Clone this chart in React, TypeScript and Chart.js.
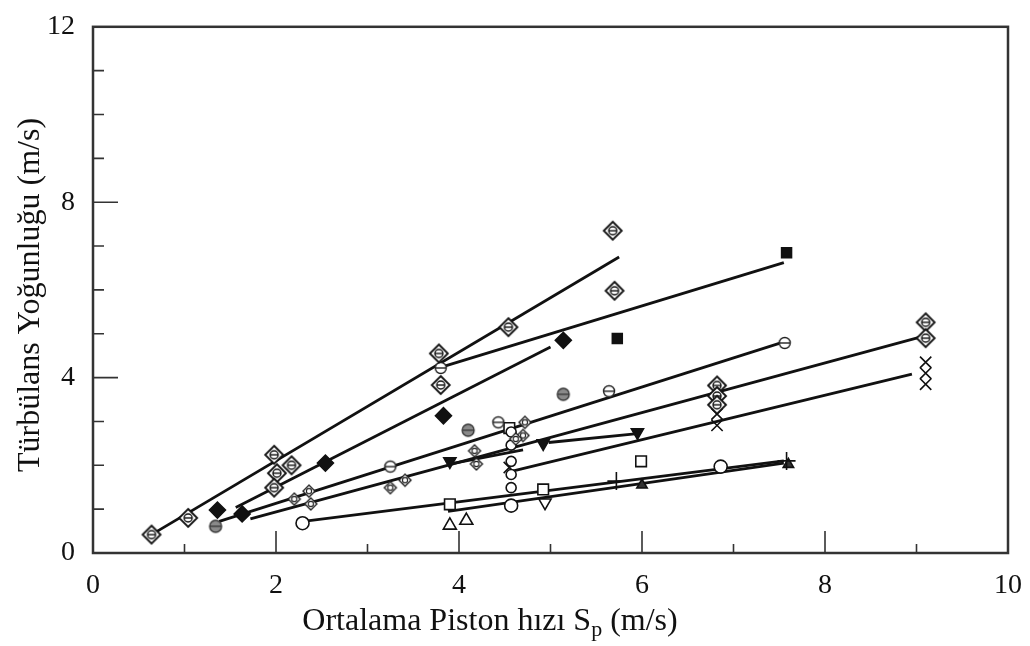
import React, { useEffect, useRef } from "react";
import { Chart, registerables } from "chart.js";
Chart.register(...registerables);

// ---- axis ticks ----
const xMajor = [0, 2, 4, 6, 8, 10];
const xMinor = [1, 3, 5, 7, 9];
const yMajor = [0, 4, 8, 12];
const yMinor = [1, 2, 3, 5, 6, 7, 9, 10, 11];

// ---- marker series ----
const diamondCircleX = [0.64, 1.04, 1.98, 2.17, 2.01, 1.98, 3.78, 3.8, 4.54, 5.68, 5.7, 6.82, 6.82, 6.82, 9.1, 9.1];
const diamondCircleY = [0.42, 0.8, 2.24, 2.0, 1.82, 1.49, 4.55, 3.83, 5.15, 7.35, 5.98, 3.82, 3.58, 3.38, 5.26, 4.9];

const grayCircleX = [1.34, 4.1, 5.14];
const grayCircleY = [0.61, 2.8, 3.62];

const openCircleLineX = [3.25, 4.43, 5.64, 7.56, 3.8];
const openCircleLineY = [1.97, 2.98, 3.69, 4.79, 4.22];

const blackDiamondX = [1.36, 1.63, 2.54, 3.83, 5.14];
const blackDiamondY = [0.98, 0.89, 2.05, 3.13, 4.85];

const blackSquareX = [5.73, 7.58];
const blackSquareY = [4.89, 6.85];

const downTriangleX = [3.9, 4.92, 5.95];
const downTriangleY = [2.09, 2.5, 2.75];

const openCircleX = [2.29, 6.86, 4.57];
const openCircleY = [0.68, 1.97, 1.08];

const stackCircleX = [4.57, 4.57, 4.57, 4.57, 4.57];
const stackCircleY = [1.49, 1.79, 2.09, 2.46, 2.76];

const openSquareX = [3.9, 4.92, 5.99, 4.55];
const openSquareY = [1.11, 1.45, 2.09, 2.85];

const openTriangleX = [3.9, 4.08];
const openTriangleY = [0.63, 0.74];

const openDownTriangleX = [4.94];
const openDownTriangleY = [1.15];

const plusX = [5.72, 7.58];
const plusY = [1.64, 2.1];

const filledTriangleX = [6.0, 7.6];
const filledTriangleY = [1.55, 2.02];

const crossX = [6.82, 6.82, 9.1, 9.1, 9.1, 4.55];
const crossY = [3.17, 2.91, 4.35, 4.1, 3.85, 1.95];

const smallDiamondX = [2.2, 2.36, 2.38, 3.41, 4.17, 4.19, 4.72, 4.7, 4.62, 3.25];
const smallDiamondY = [1.23, 1.41, 1.12, 1.66, 2.33, 2.03, 2.98, 2.68, 2.6, 1.49];

// ---- fitted lines (end points) ----
const lineAX = [0.64, 5.75];
const lineAY = [0.42, 6.75];
const lineBX = [3.78, 7.55];
const lineBY = [4.22, 6.62];
const lineCX = [1.56, 5.0];
const lineCY = [1.04, 4.7];
const lineDX = [1.38, 7.5];
const lineDY = [0.72, 4.78];
const lineEX = [1.72, 9.14];
const lineEY = [0.78, 4.98];
const lineFX = [4.55, 8.95];
const lineFY = [1.85, 4.08];
const lineGX = [3.95, 4.7];
const lineGY = [2.05, 2.35];
const lineG2X = [4.98, 5.95];
const lineG2Y = [2.52, 2.72];
const lineHX = [2.3, 7.55];
const lineHY = [0.72, 2.1];
const lineIX = [3.88, 7.55];
const lineIY = [0.95, 2.05];

const SERIF = "'Liberation Serif', 'Times New Roman', serif";
const TICK_SIZE = 28;
const TITLE_SIZE = 32;

function pts(xs: number[], ys: number[]) {
  return xs.map((x, i) => ({ x, y: ys[i] }));
}

function makeMarker(size: number, draw: (ctx: CanvasRenderingContext2D, c: number) => void) {
  const cv = document.createElement("canvas");
  cv.width = size;
  cv.height = size;
  const ctx = cv.getContext("2d") as CanvasRenderingContext2D;
  draw(ctx, size / 2);
  return cv;
}

export default function App() {
  const ref = useRef<HTMLCanvasElement | null>(null);

  useEffect(() => {
    document.body.style.margin = "0";
    const canvas = ref.current;
    if (!canvas) return;

    const diamondCircle = makeMarker(24, (ctx, c) => {
      ctx.beginPath();
      ctx.moveTo(c, c - 9);
      ctx.lineTo(c + 9, c);
      ctx.lineTo(c, c + 9);
      ctx.lineTo(c - 9, c);
      ctx.closePath();
      ctx.fillStyle = "#fff";
      ctx.fill();
      ctx.strokeStyle = "#111";
      ctx.lineWidth = 1.8;
      ctx.stroke();
      ctx.beginPath();
      ctx.arc(c, c, 4, 0, Math.PI * 2);
      ctx.lineWidth = 1.4;
      ctx.stroke();
      ctx.beginPath();
      ctx.moveTo(c - 4, c);
      ctx.lineTo(c + 4, c);
      ctx.stroke();
    });
    const smallDiamond = makeMarker(16, (ctx, c) => {
      ctx.beginPath();
      ctx.moveTo(c, c - 6);
      ctx.lineTo(c + 6, c);
      ctx.lineTo(c, c + 6);
      ctx.lineTo(c - 6, c);
      ctx.closePath();
      ctx.fillStyle = "#fff";
      ctx.fill();
      ctx.strokeStyle = "#222";
      ctx.lineWidth = 1.4;
      ctx.stroke();
      ctx.beginPath();
      ctx.arc(c, c, 2.6, 0, Math.PI * 2);
      ctx.lineWidth = 1.1;
      ctx.stroke();
    });
    const grayCircle = makeMarker(16, (ctx, c) => {
      ctx.beginPath();
      ctx.arc(c, c, 6, 0, Math.PI * 2);
      ctx.fillStyle = "#8a8a8a";
      ctx.fill();
      ctx.strokeStyle = "#333";
      ctx.lineWidth = 1.3;
      ctx.stroke();
      ctx.beginPath();
      ctx.moveTo(c - 6, c);
      ctx.lineTo(c + 6, c);
      ctx.stroke();
    });
    const openCircleLine = makeMarker(16, (ctx, c) => {
      ctx.beginPath();
      ctx.arc(c, c, 5.5, 0, Math.PI * 2);
      ctx.fillStyle = "#fff";
      ctx.fill();
      ctx.strokeStyle = "#222";
      ctx.lineWidth = 1.4;
      ctx.stroke();
      ctx.beginPath();
      ctx.moveTo(c - 5.5, c);
      ctx.lineTo(c + 5.5, c);
      ctx.stroke();
    });

    const lineDs = (xs: number[], ys: number[]) => ({
      data: pts(xs, ys),
      showLine: true,
      borderColor: "#111",
      borderWidth: 2.8,
      pointRadius: 0,
      order: 2,
    });
    const mk = (xs: number[], ys: number[], style: any, opts: any = {}) => ({
      data: pts(xs, ys),
      showLine: false,
      pointStyle: style,
      pointRadius: 7,
      borderColor: "#111",
      backgroundColor: "#fff",
      borderWidth: 1.6,
      order: 1,
      ...opts,
    });

    const framePlugin = {
      id: "framePlugin",
      afterDraw(chart: any) {
        const { ctx, chartArea: a, scales } = chart;
        ctx.save();
        ctx.strokeStyle = "#333";
        ctx.lineWidth = 2.5;
        ctx.strokeRect(a.left, a.top, a.right - a.left, a.bottom - a.top);
        ctx.lineWidth = 1.6;
        ctx.beginPath();
        xMajor.forEach((v) => {
          if (v === 0 || v === 10) return;
          const px = scales.x.getPixelForValue(v);
          ctx.moveTo(px, a.bottom);
          ctx.lineTo(px, a.bottom - 22);
        });
        xMinor.forEach((v) => {
          const px = scales.x.getPixelForValue(v);
          ctx.moveTo(px, a.bottom);
          ctx.lineTo(px, a.bottom - 9);
        });
        yMajor.forEach((v) => {
          if (v === 0 || v === 12) return;
          const py = scales.y.getPixelForValue(v);
          ctx.moveTo(a.left, py);
          ctx.lineTo(a.left + 25, py);
        });
        yMinor.forEach((v) => {
          const py = scales.y.getPixelForValue(v);
          ctx.moveTo(a.left, py);
          ctx.lineTo(a.left + 11, py);
        });
        ctx.stroke();

        // Axis titles
        ctx.fillStyle = "#111";
        ctx.font = `${TITLE_SIZE}px ${SERIF}`;
        ctx.textBaseline = "middle";
        ctx.textAlign = "center";
        ctx.save();
        ctx.translate(31, 295);
        ctx.rotate(-Math.PI / 2);
        ctx.fillText("Türbülans Yoğunluğu (m/s)", 0, 0);
        ctx.restore();

        const part1 = "Ortalama Piston hızı S";
        const sub = "p";
        const part2 = " (m/s)";
        const subSize = Math.round(TITLE_SIZE * 0.7);
        ctx.textAlign = "left";
        ctx.textBaseline = "alphabetic";
        ctx.font = `${TITLE_SIZE}px ${SERIF}`;
        const w1 = ctx.measureText(part1).width;
        const w3 = ctx.measureText(part2).width;
        ctx.font = `${subSize}px ${SERIF}`;
        const w2 = ctx.measureText(sub).width;
        const total = w1 + w2 + w3;
        const x0 = 490 - total / 2;
        const base = 630;
        ctx.font = `${TITLE_SIZE}px ${SERIF}`;
        ctx.fillText(part1, x0, base);
        ctx.font = `${subSize}px ${SERIF}`;
        ctx.fillText(sub, x0 + w1, base + 6);
        ctx.font = `${TITLE_SIZE}px ${SERIF}`;
        ctx.fillText(part2, x0 + w1 + w2, base);
        ctx.restore();
      },
    };

    const chart = new Chart(canvas, {
      type: "scatter",
      data: {
        datasets: [
          mk(diamondCircleX, diamondCircleY, diamondCircle),
          mk(smallDiamondX, smallDiamondY, smallDiamond),
          mk(grayCircleX, grayCircleY, grayCircle),
          mk(openCircleLineX, openCircleLineY, openCircleLine),
          mk(blackDiamondX, blackDiamondY, "rectRot", { backgroundColor: "#111", pointRadius: 8 }),
          mk(blackSquareX, blackSquareY, "rect", { backgroundColor: "#111", pointRadius: 7 }),
          mk(downTriangleX, downTriangleY, "triangle", { backgroundColor: "#111", rotation: 180, pointRadius: 7 }),
          mk(openCircleX, openCircleY, "circle", { pointRadius: 6.5 }),
          mk(stackCircleX, stackCircleY, "circle", { pointRadius: 5 }),
          mk(openSquareX, openSquareY, "rect", { pointRadius: 7.5 }),
          mk(openTriangleX, openTriangleY, "triangle", { pointRadius: 7.5 }),
          mk(openDownTriangleX, openDownTriangleY, "triangle", { pointRadius: 7, rotation: 180 }),
          mk(plusX, plusY, "cross", { pointRadius: 9, borderWidth: 1.6 }),
          mk(filledTriangleX, filledTriangleY, "triangle", { backgroundColor: "#333", pointRadius: 6 }),
          mk(crossX, crossY, "crossRot", { pointRadius: 8, borderWidth: 1.6 }),
          lineDs(lineAX, lineAY),
          lineDs(lineBX, lineBY),
          lineDs(lineCX, lineCY),
          lineDs(lineDX, lineDY),
          lineDs(lineEX, lineEY),
          lineDs(lineFX, lineFY),
          lineDs(lineGX, lineGY),
          lineDs(lineG2X, lineG2Y),
          lineDs(lineHX, lineHY),
          lineDs(lineIX, lineIY),
        ] as any,
      },
      options: {
        responsive: false,
        animation: false,
        layout: { padding: { top: 18, right: 18, left: 0, bottom: 0 } },
        plugins: {
          legend: { display: false },
          tooltip: { enabled: false },
        },
        scales: {
          x: {
            type: "linear",
            min: 0,
            max: 10,
            grid: { display: false },
            border: { display: false },
            afterFit: (s: any) => {
              s.height = 93;
            },
            afterBuildTicks: (s: any) => {
              s.ticks = xMajor.map((v) => ({ value: v }));
            },
            ticks: {
              padding: 8,
              color: "#111",
              font: { family: SERIF, size: TICK_SIZE },
              callback: (v: any) => String(v),
            },
          },
          y: {
            type: "linear",
            min: 0,
            max: 12,
            grid: { display: false },
            border: { display: false },
            afterFit: (s: any) => {
              s.width = 93;
            },
            afterBuildTicks: (s: any) => {
              s.ticks = yMajor.map((v) => ({ value: v }));
            },
            ticks: {
              padding: 10,
              color: "#111",
              font: { family: SERIF, size: TICK_SIZE },
              callback: (v: any) => String(v),
            },
          },
        },
      } as any,
      plugins: [framePlugin],
    });
    return () => chart.destroy();
  }, []);

  return <canvas ref={ref} width={1030} height={646} style={{ display: "block" }} />;
}
